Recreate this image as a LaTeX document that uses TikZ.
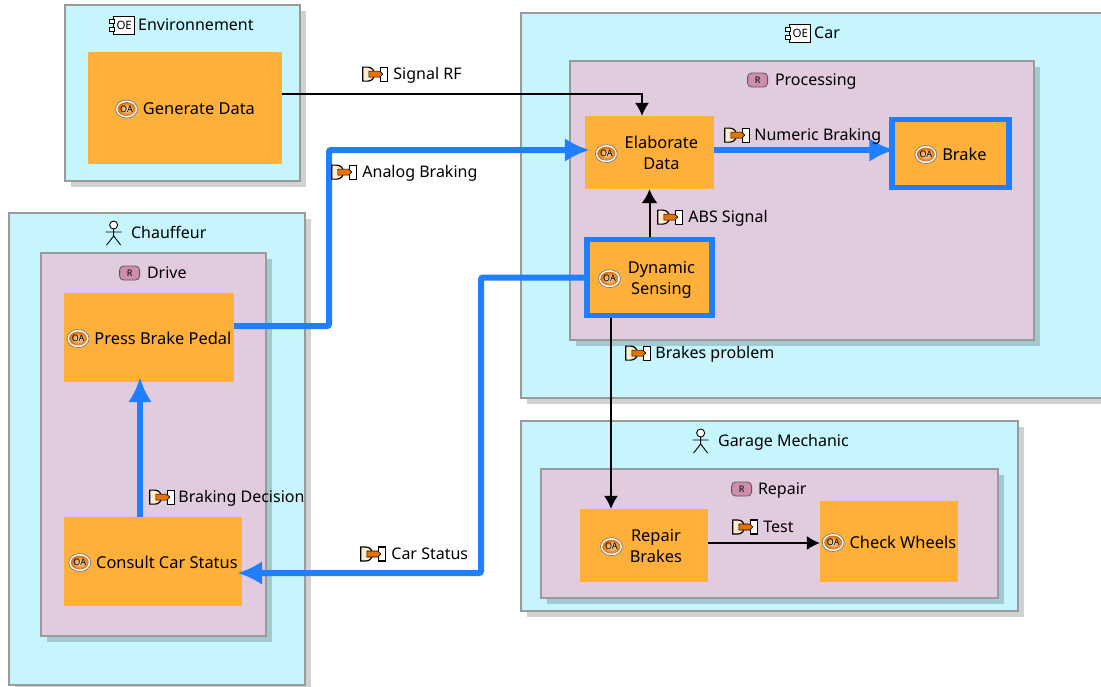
\documentclass[tikz,border=0pt]{standalone}
\usepackage{fontspec}
\setmainfont{Noto Sans}
\usetikzlibrary{arrows.meta,shadows,calc}

\definecolor{entcyan}{HTML}{C6F5FE}
\definecolor{rolelilac}{HTML}{E0CBDF}
\definecolor{actorange}{HTML}{FFB03B}
\definecolor{flowblue}{HTML}{1F7FFF}
\definecolor{edgegray}{HTML}{9A9A9A}

\tikzset{
    entbox/.style={draw=edgegray, line width=1.5pt, fill=entcyan, general shadow={shadow xshift=6pt, shadow yshift=-6pt, fill=black, opacity=0.18}},
    rolebox/.style={draw=edgegray, line width=1.5pt, fill=rolelilac, general shadow={shadow xshift=6pt, shadow yshift=-6pt, fill=black, opacity=0.18}},
    actbox/.style={fill=actorange, align=center, inner sep=0pt, font=\fontsize{16.4}{21}\selectfont},
    selbox/.style={actbox, draw=flowblue, line width=5.5pt},
    lbl/.style={inner sep=0pt, font=\fontsize{16}{19}\selectfont},
    iconlbl/.style={anchor=center, inner sep=0pt, minimum width=0pt, minimum height=0pt, draw=none, fill=none},
    thinflow/.style={draw=black, line width=1.3pt, -{Latex[length=13pt,width=14pt]}},
    thickflow/.style={draw=flowblue, line width=6pt, rounded corners=2pt, shorten >=-5pt, -{Latex[length=25pt,width=24pt]}},
}

% Icons
\newcommand{\oaicon}{\tikz[baseline=-5.5pt,x=1pt,y=1pt]{
    \draw[gray, fill=white, line width=0.8pt] (0,0) ellipse[x radius=11, y radius=9];
    \shade[inner color=white!70!actorange, outer color=orange!85!black] (0,0) ellipse[x radius=9, y radius=7];
    \node[iconlbl, font=\fontsize{9}{9}\bfseries\selectfont] at (0,0) {OA};
}}
\newcommand{\oeicon}{\tikz[baseline=-5.5pt,x=1pt,y=1pt]{
    \draw[line width=1pt, fill=white] (-8,-9) rectangle (13,9);
    \draw[line width=1pt, fill=white] (-12,2) rectangle (-7,6);
    \draw[line width=1pt, fill=white] (-12,-6) rectangle (-7,-2);
    \node[iconlbl, font=\fontsize{11.5}{11}\bfseries\selectfont] at (2.5,0) {OE};
}}
\newcommand{\roleicon}{\tikz[baseline=-5.5pt,x=1pt,y=1pt]{
    \draw[gray!70!black, line width=0.8pt, fill=rolelilac!70!purple!90!gray, rounded corners=4pt] (-10,-7) rectangle (10,7);
    \node[iconlbl, font=\fontsize{9}{9}\bfseries\selectfont] at (0,0) {R};
}}
\newcommand{\flowicon}{\tikz[baseline=-5.5pt,x=1pt,y=1pt]{
    \draw[line width=1.2pt, fill=white!75!actorange] (0,-7) -- (5,-7) to[out=0, in=0, looseness=1.6] (5,7) -- (0,7) -- cycle;
    \draw[line width=1.2pt, fill=white] (18,-7) rectangle (25,7);
    \fill[orange!90!black, draw=black, line width=0.6pt] (6,-3) -- (17,-3) -- (20,0) -- (17,3) -- (6,3) -- cycle;
}}
\newcommand{\actoricon}{\tikz[baseline=-5.5pt,x=1pt,y=1pt]{
    \draw[line width=0.9pt, fill=white] (0,8) circle[radius=4];
    \draw[line width=0.9pt] (0,4) -- (0,-3) (-8,1) -- (8,1) (-7,-12) -- (0,-3) -- (7,-12);
}}
\newcommand{\oneline}[1]{\rule{0pt}{17pt}\oaicon\hspace{5pt}#1}
\newcommand{\twolines}[2]{\rule{0pt}{30pt}\oaicon\hspace{7pt}\begin{tabular}[c]{@{}c@{}}#1\\#2\end{tabular}\hspace{6pt}}

\begin{document}
\begin{tikzpicture}[x=1pt, y=-1pt]
    \clip (0,0) rectangle (1101,686);

    % Entities
    \node[entbox, minimum width=235, minimum height=176] (environment) at (182.5,93) {};
    \node[entbox, minimum width=296, minimum height=472] (chauffeur) at (157,449) {};
    \node[entbox, minimum width=600, minimum height=385] (car) at (821,205.5) {};
    \node[entbox, minimum width=497, minimum height=190] (garage) at (769.5,516) {};

    % Roles
    \node[rolebox, minimum width=225, minimum height=383] (drive) at (153.5,444.5) {};
    \node[rolebox, minimum width=464, minimum height=279] (processing) at (802,200.5) {};
    \node[rolebox, minimum width=457, minimum height=129] (repair) at (769.5,533.5) {};

    % Titles
    \node[lbl, anchor=west] (environmenttitle) at (109,25) {\oeicon\hspace{3pt}Environnement};
    \node[lbl, anchor=west] (cartitle) at (785,33) {\oeicon\hspace{3pt}Car};
    \node[lbl, anchor=west] (chauffeurtitle) at (105,233) {\actoricon\hspace{9pt}Chauffeur};
    \node[lbl, anchor=west] (garagetitle) at (692,441) {\actoricon\hspace{9pt}Garage Mechanic};
    \node[lbl, anchor=west] (drivetitle) at (119,273) {\roleicon\hspace{7pt}Drive};
    \node[lbl, anchor=west] (processingtitle) at (747,81) {\roleicon\hspace{7pt}Processing};
    \node[lbl, anchor=west] (repairtitle) at (731,490) {\roleicon\hspace{6pt}Repair};

    % Activities
    \node[actbox, minimum width=194, minimum height=112] (gendata) at (185,108) {\oneline{Generate Data}};
    \node[actbox, minimum width=170, minimum height=89] (press) at (149,337.5) {\oneline{Press Brake Pedal}};
    \node[actbox, minimum width=178, minimum height=89] (consult) at (153,561.5) {\oneline{Consult Car Status}};
    \node[actbox, minimum width=129, minimum height=73] (elaborate) at (649.5,152.5) {\twolines{Elaborate}{Data}};
    \node[selbox, minimum width=117, minimum height=68] (brake) at (950.5,153.5) {\oneline{Brake}};
    \node[selbox, minimum width=125, minimum height=76] (dynamic) at (649.5,277.5) {\twolines{Dynamic}{Sensing}};
    \node[actbox, minimum width=128, minimum height=73] (repairbrakes) at (644,545.5) {\twolines{Repair}{Brakes}};
    \node[actbox, minimum width=138, minimum height=81] (wheels) at (889,541.5) {\oneline{Check Wheels}};

    % Bends
    \coordinate (analogbend) at (329,150);
    \coordinate (statusbend) at (481,573);

    % Flows
    \draw[thinflow] ([yshift=14pt]gendata.east) -| ([xshift=-7.5pt]elaborate.north);
    \draw[thinflow, line width=2pt, -{Latex[length=14pt,width=16pt]}] (dynamic.north) -- (elaborate.south);
    \draw[thinflow] ([xshift=-38.5pt]dynamic.south) -- ([xshift=-33pt]repairbrakes.north);
    \draw[thinflow] ([yshift=2.5pt]repairbrakes.east) -- ([yshift=-1.5pt]wheels.west);
    \draw[thickflow] ([yshift=11.5pt]press.east) -| (analogbend) -- ([yshift=2.5pt]elaborate.west);
    \draw[thickflow] ([yshift=2.5pt]elaborate.east) -- ([yshift=3.5pt]brake.west);
    \draw[thickflow] (dynamic.west) -| (statusbend) -- ([yshift=-11.5pt]consult.east);
    \draw[thickflow] ([xshift=-13pt]consult.north) -- ([xshift=-9pt]press.south);

    % Flow labels
    \node[lbl, anchor=west] (signalrf) at (362,75) {\flowicon\hspace{5pt}Signal RF};
    \node[lbl, anchor=west] (analogbraking) at (331,173) {\flowicon\hspace{5pt}Analog Braking};
    \node[lbl, anchor=west] (numericbraking) at (724,136) {\flowicon\hspace{4pt}Numeric Braking};
    \node[lbl, anchor=west] (abssignal) at (657,218) {\flowicon\hspace{5pt}ABS Signal};
    \node[lbl, anchor=west] (brakesproblem) at (625,354) {\flowicon\hspace{4pt}Brakes problem};
    \node[lbl, anchor=west] (brakingdecision) at (149,498) {\flowicon\hspace{3pt}Braking Decision};
    \node[lbl, anchor=west] (carstatus) at (360,554) {\flowicon\hspace{5pt}Car Status};
    \node[lbl, anchor=west] (testflow) at (732,527) {\flowicon\hspace{5pt}Test};
\end{tikzpicture}
\end{document}
